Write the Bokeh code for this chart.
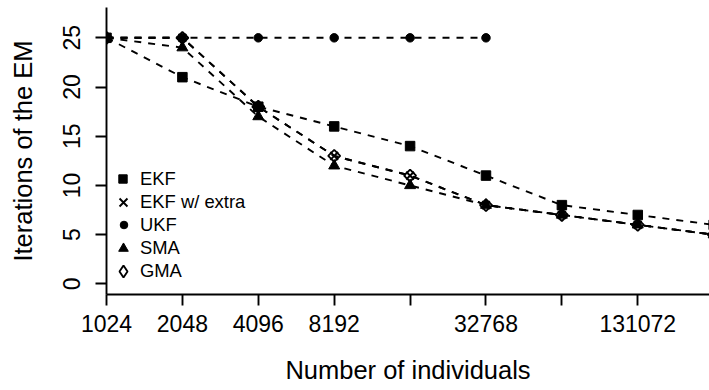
import numpy as np
from bokeh.plotting import figure
from bokeh.models import Range1d, FixedTicker, Legend, LegendItem
from bokeh.embed import file_html
from bokeh.resources import INLINE

# Population sizes (log2 axis) and EM iteration counts per filter
individuals = [1024, 2048, 4096, 8192, 16384, 32768, 65536, 131072, 262144]
ekf = [25, 21, 18, 16, 14, 11, 8, 7, 6]
ekf_extra = [25, 25, 18, 13, 11, 8, 7, 6, 5]
ukf_individuals = [1024, 2048, 4096, 8192, 16384, 32768]
ukf = [25, 25, 25, 25, 25, 25]
sma = [25, 24, 17, 12, 10, 8, 7, 6, 5]
gma = [25, 25, 18, 13, 11, 8, 7, 6, 5]

series_names = ["EKF", "EKF w/ extra", "UKF", "SMA", "GMA"]

x_ticks = [1024, 2048, 4096, 8192, 16384, 32768, 65536, 131072, 262144]
x_tick_labels = ["1024", "2048", "4096", "8192", "", "32768", "", "131072", ""]
y_ticks = [0, 5, 10, 15, 20, 25]

FONT = "Liberation Sans"
LW = 1.9
DASH = "7 7"

p = figure(
    width=709, height=390,
    x_axis_type="log",
    x_range=Range1d(1024, 2 ** 17.945),
    y_range=Range1d(-1.08, 28.08),
    output_backend="svg", toolbar_location=None,
    min_border_left=106, min_border_right=0,
    min_border_top=7, min_border_bottom=96,
)
p.grid.visible = False
p.outline_line_color = None
p.background_fill_color = "white"
p.border_fill_color = "white"

p.xaxis.ticker = FixedTicker(ticks=x_ticks, minor_ticks=[])
p.xaxis.major_label_overrides = {t: lab for t, lab in zip(x_ticks, x_tick_labels)}
p.yaxis.ticker = FixedTicker(ticks=y_ticks, minor_ticks=[])
p.yaxis.major_label_orientation = "vertical"

p.xaxis.axis_label = "Number of individuals"
p.yaxis.axis_label = "Iterations of the EM"

for ax in (p.xaxis, p.yaxis):
    ax.axis_line_width = LW
    ax.axis_line_color = "black"
    ax.major_tick_line_width = LW
    ax.major_tick_line_color = "black"
    ax.major_tick_out = 11
    ax.major_tick_in = 0
    ax.minor_tick_out = 0
    ax.minor_tick_in = 0
    ax.major_label_text_font = FONT
    ax.major_label_text_font_size = "23px"
    ax.major_label_text_color = "black"
    ax.axis_label_text_font = FONT
    ax.axis_label_text_font_size = "25.5px"
    ax.axis_label_text_font_style = "normal"
    ax.axis_label_text_color = "black"

p.xaxis.major_label_standoff = 9
p.xaxis.axis_label_standoff = 21
p.yaxis.major_label_standoff = 15
p.yaxis.axis_label_standoff = 24


def series(xs, ys, marker, size, fill=True, angle=0.0):
    p.line(xs, ys, line_color="black", line_width=LW, line_dash=DASH)
    return p.scatter(
        xs, ys, marker=marker, size=size, angle=angle,
        line_color="black", line_width=LW if not fill else 1,
        fill_color="black" if fill else None,
    )


r_ekf = series(individuals, ekf, "square", 9.5)
r_extra = series(individuals, ekf_extra, "x", 11, fill=False)
r_ukf = series(ukf_individuals, ukf, "circle", 8.5)
r_sma = series(individuals, sma, "triangle", 11)
r_gma = series(individuals, gma, "square", 8.5, fill=False, angle=np.pi / 4)

# Hidden twin of the GMA series, used only as its legend key
# (legend keys are drawn unrotated, so the key uses the diamond marker)
r_gma_key = p.scatter(individuals, gma, marker="diamond", size=12,
                      line_color="black", line_width=LW, fill_color=None,
                      visible=False)

# One key per row so each symbol keeps its own size
key_renderers = [r_ekf, r_extra, r_ukf, r_sma, r_gma_key]
key_boxes = [21, 28, 19, 24, 30]   # key size is 0.4 of the box
row_step = 23
marker_x = 17      # key centre, px right of the y axis
text_x = 34        # label start, px right of the y axis
lowest_row = 23    # centre of the last row, px above the x axis

for i, (name, rend, box) in enumerate(zip(series_names, key_renderers, key_boxes)):
    row_h = max(box, row_step)
    cy = lowest_row + (len(series_names) - 1 - i) * row_step
    left = int(round(marker_x - box / 2))
    leg = Legend(
        items=[LegendItem(label=name, renderers=[rend])],
        location=(left, int(round(cy - row_h / 2))),
        border_line_color=None,
        background_fill_alpha=0,
        padding=0, margin=0, spacing=0,
        glyph_width=box, glyph_height=box,
        label_height=row_step, label_standoff=text_x - left - box,
        label_text_font=FONT, label_text_font_size="18.4px",
        label_text_color="black",
        inactive_fill_alpha=0,
    )
    p.add_layout(leg)

open("out.html", "w").write(file_html(p, INLINE))
